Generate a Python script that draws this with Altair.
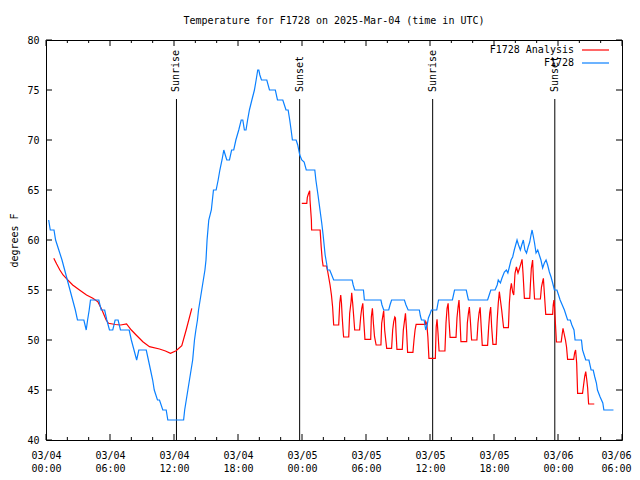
import altair as alt
import pandas as pd

# ---- data (hours since 2025-03-04 00:00 UTC, degrees F) ----
obs_hours = [0.25, 0.4, 0.75, 0.9, 1.2, 1.5, 1.75, 2.0, 2.25, 2.5, 2.75, 2.95, 3.55, 3.77,
             3.9, 4.05, 4.17, 4.95, 5.17, 5.5, 5.7, 5.95, 6.26, 6.48, 6.76, 6.98, 7.8,
             8.0, 8.25, 8.5, 8.7, 9.4, 9.6, 9.8, 10.0, 10.15, 10.45, 10.64, 10.95, 11.27,
             11.42, 12.9, 13.0, 13.15, 13.3, 13.45, 13.6, 13.75, 13.92, 14.05, 14.2, 14.3,
             14.45, 14.6, 14.75, 14.9, 15.0, 15.1, 15.26, 15.5, 15.7, 15.95, 16.14, 16.3,
             16.5, 16.67, 16.75, 16.95, 17.2, 17.4, 17.6, 17.8, 18.07, 18.3, 18.45, 18.6,
             18.75, 18.9, 19.07, 19.3, 19.54, 19.7, 19.85, 19.95, 20.05, 20.2, 20.7, 20.95,
             21.5, 21.7, 22.2, 22.35, 22.5, 22.7, 22.85, 22.98, 23.1, 23.45, 23.6, 23.79,
             23.98, 24.2, 24.4, 25.2, 25.3, 25.5, 25.6, 25.85, 25.98, 26.17, 26.3, 26.4,
             26.6, 26.75, 26.97, 28.7, 28.8, 28.94, 29.76, 29.85, 31.4, 31.5, 31.66, 32.13,
             32.25, 32.4, 33.6, 33.75, 33.95, 35.0, 35.1, 35.2, 35.45, 35.6, 35.75, 35.85,
             36.0, 36.13, 36.63, 36.8, 38.1, 38.3, 39.4, 39.6, 41.4, 41.55, 41.7, 42.1,
             42.3, 42.4, 42.6, 42.75, 42.97, 43.16, 43.3, 43.44, 43.6, 43.75, 43.9, 44.03,
             44.16, 44.3, 44.47, 44.6, 44.75, 44.9, 45.05, 45.2, 45.35, 45.47, 45.57, 45.7,
             45.8, 45.94, 46.1, 46.25, 46.4, 46.56, 46.72, 46.88, 47.03, 47.19, 47.35, 47.5,
             47.66, 47.9, 48.05, 48.2, 48.4, 48.6, 48.75, 48.9, 49.15, 49.3, 49.5, 49.6,
             50.2, 50.3, 50.45, 50.6, 50.9, 51.1, 51.3, 51.45, 51.6, 51.7, 51.95, 52.2,
             52.3, 53.2]
obs_temps = [62, 61, 61, 60, 59, 58, 57, 56, 55, 54, 53, 52, 52, 51,
             52, 53, 54, 54, 53, 53, 52, 51, 51, 52, 52, 51, 51,
             50, 49, 48, 49, 49, 48, 47, 46, 45, 44, 44, 43, 43,
             42, 42, 43, 44, 45, 46, 47, 48, 50, 51, 52, 53,
             54, 55, 56, 57, 58, 60, 62, 63, 65, 65, 66, 67,
             68, 69, 68.7, 68, 68, 69, 69, 70, 71, 72, 72, 71,
             71, 72, 73, 74, 75, 76, 77, 77, 76.5, 76, 76, 75,
             75, 74, 74, 73.5, 73, 73, 72, 71, 70, 70, 69.5, 68.5,
             68, 67.8, 67, 67, 66, 64.5, 63.7, 61.7, 60.5, 58.5, 57.7, 57,
             57, 56.6, 56, 56, 55.5, 55, 55, 54, 54, 53.5, 53, 53,
             53.5, 54, 54, 53.5, 53, 53, 52.4, 52, 52, 51, 51.6, 52.2,
             52.6, 53, 53, 54, 54, 55, 55, 54, 54, 54.5, 55, 55,
             55.5, 56, 55.7, 56.2, 56.8, 57, 56.7, 57.3, 58, 58.3, 59, 59.5,
             60, 59.5, 59, 59.5, 60, 59, 58.7, 59.3, 59.8, 60.5, 61, 60.3,
             59.7, 58.7, 59, 58.5, 58, 57.2, 57.7, 58, 57.5, 56.8, 56.3, 55.7,
             55, 55, 54.5, 54, 53.5, 53, 52.5, 52, 52, 51.5, 51, 50,
             50, 49, 48.5, 48, 48, 47, 47, 46.3, 45.7, 45, 44.3, 43.7,
             43, 43]

ana1_hours = [0.73, 1.0, 1.3, 1.6, 1.9, 2.5, 3.14, 3.8, 4.39, 4.86, 5.25, 5.64, 5.86,
              6.5, 7.0, 7.55, 8.0, 8.45, 9.08, 9.7, 10.64, 11.2, 11.67, 12.2, 12.73,
              13.14, 13.67]
ana1_temps = [58.17, 57.6, 57.0, 56.5, 56.17, 55.5, 55.0, 54.5, 54.17, 53.83, 53.0, 52.0,
              51.67, 51.55, 51.5, 51.6, 51.0, 50.5, 49.83, 49.33, 49.1, 48.9, 48.67,
              48.93, 49.43, 51.0, 53.17]

ana2_hours = [23.98, 24.45, 24.5, 24.6, 24.72, 24.75, 24.88, 24.9, 25.7, 25.8, 25.9, 25.98,
              26.3, 26.4, 26.5, 26.63, 26.76, 26.87, 26.97, 27.44, 27.54, 27.63, 27.7,
              27.77, 27.85, 27.9, 28.38, 28.47, 28.6, 28.66, 28.75, 28.85, 28.94, 29.4,
              29.5, 29.6, 29.7, 29.77, 29.85, 29.9, 30.44, 30.5, 30.6, 30.7, 30.8, 30.95,
              31.4, 31.47, 31.56, 31.66, 31.75, 31.85, 31.94, 32.4, 32.5, 32.6, 32.7, 32.76,
              32.82, 32.9, 33.4, 33.5, 33.6, 33.7, 33.8, 33.9, 34.4, 34.5, 34.6, 34.7,
              35.57, 35.6, 35.7, 35.8, 35.9, 36.5, 36.58, 36.66, 36.75, 36.85, 37.4, 37.5,
              37.6, 37.7, 37.78, 37.88, 38.44, 38.53, 38.63, 38.72, 38.8, 38.9, 39.44, 39.5,
              39.6, 39.69, 39.78, 39.9, 40.4, 40.5, 40.6, 40.7, 40.8, 40.9, 41.4, 41.5,
              41.6, 41.69, 41.78, 41.9, 42.2, 42.3, 42.4, 42.5, 42.6, 42.72, 42.9, 43.35,
              43.44, 43.53, 43.63, 43.75, 43.85, 43.97, 44.1, 44.25, 44.4, 44.53, 44.63,
              44.72, 44.85, 45.35, 45.42, 45.5, 45.62, 45.7, 45.8, 46.35, 46.45, 46.55,
              46.63, 46.72, 46.85, 47.5, 47.55, 47.62, 47.68, 47.75, 47.85, 48.3, 48.38,
              48.47, 48.56, 48.7, 48.8, 48.9, 49.47, 49.56, 49.65, 49.75, 49.84, 50.3,
              50.4, 50.5, 50.6, 50.7, 50.78, 50.87, 51.4]
ana2_temps = [63.67, 63.67, 64.27, 64.6, 64.93, 64.0, 62.0, 61.0, 61.0, 59.3, 58.0, 57.4,
              57.4, 56.9, 56.3, 55.5, 54.5, 53.3, 51.5, 51.5, 53.7, 54.5, 53.7,
              52.3, 51.0, 50.3, 50.3, 52.67, 53.83, 54.73, 53.7, 52.3, 51.0, 51.0,
              52.3, 53.17, 53.67, 52.3, 50.93, 50.07, 50.07, 52.3, 53.17, 51.6, 50.33, 49.5,
              49.5, 51.67, 52.3, 52.93, 51.0, 50.0, 49.17, 49.17, 51.0, 51.83, 52.3, 52.2,
              50.7, 49.07, 49.07, 51.0, 51.83, 52.67, 51.0, 48.77, 48.77, 50.0, 51.0, 51.57,
              51.57, 51.83, 51.6, 50.3, 48.17, 48.17, 51.3, 52.07, 50.7, 48.9, 48.9, 51.7,
              53.17, 53.67, 52.0, 50.27, 50.27, 52.2, 53.27, 54.0, 52.3, 49.83, 49.83, 51.7,
              52.67, 53.3, 52.0, 50.0, 50.0, 51.7, 52.7, 53.27, 51.3, 49.47, 49.47, 51.3,
              52.7, 53.3, 51.3, 49.57, 49.57, 52.0, 53.67, 54.83, 54.0, 53.0, 51.23, 51.23,
              53.67, 55.0, 55.67, 54.8, 54.5, 56.67, 57.3, 56.7, 57.2, 57.67, 58.07,
              56.7, 54.17, 54.17, 55.67, 57.17, 58.0, 56.0, 54.1, 54.1, 55.3, 55.8,
              56.17, 54.7, 52.57, 52.57, 53.5, 54.0, 53.2, 51.83, 49.8, 49.8, 50.5,
              51.17, 50.7, 50.0, 49.3, 48.07, 48.07, 48.7, 49.0, 47.7, 44.67, 44.67,
              45.5, 46.33, 46.83, 46.0, 45.2, 43.6, 43.6]

event_names = ["Sunrise", "Sunset", "Sunrise", "Sunset"]
event_hours = [12.23, 23.78, 36.25, 47.70]

major_x = list(range(0, 55, 6))
minor_x = [h for h in range(0, 55, 2) if h % 6 != 0]
y_ticks = list(range(40, 81, 5))

legend_labels = ["F1728 Analysis", "F1728"]

# ---- styling ----
FONT = "DejaVu Sans Mono"
RED = "#ff0000"
BLUE = "#0a80ff"
W, H = 576, 400

obs = pd.DataFrame({"h": obs_hours, "v": obs_temps})
ana = pd.concat([
    pd.DataFrame({"h": ana1_hours, "v": ana1_temps, "seg": "a"}),
    pd.DataFrame({"h": ana2_hours, "v": ana2_temps, "seg": "b"}),
])
events = pd.DataFrame({"h": event_hours, "name": event_names})
majors = pd.DataFrame({"h": major_x})
minors = pd.DataFrame({"h": minor_x})
yt = pd.DataFrame({"v": y_ticks})

label_expr = ("['03/0' + (4 + floor(datum.value / 24)), "
              "((datum.value % 24) < 10 ? '0' : '') + (datum.value % 24) + ':00']")

xscale = alt.Scale(domain=[0, 54], nice=False, zero=False)
yscale = alt.Scale(domain=[40, 80], nice=False, zero=False)
xaxis = alt.Axis(values=major_x, labelExpr=label_expr, ticks=False, domain=False, grid=False,
                 title=None, labelPadding=10, labelLineHeight=13, labelFont=FONT,
                 labelFontSize=10, labelColor="black", labelAngle=0, labelOverlap=False,
                 labelFlush=False,
                 labelAlign=alt.ExprRef("datum.value >= 54 ? 'right' : 'center'"),
                 labelOffset=alt.ExprRef("datum.value >= 54 ? 9 : 0"))
yaxis = alt.Axis(values=y_ticks, ticks=False, domain=False, grid=False, title="degrees F",
                 labelPadding=7, labelFont=FONT, labelFontSize=10, labelColor="black",
                 titleFont=FONT, titleFontSize=10, titleFontWeight="normal", titleColor="black",
                 titleX=-32, titleY=200, titleAngle=270, titleAlign="center",
                 titleBaseline="middle")
X = alt.X("h:Q", scale=xscale, axis=xaxis)
Y = alt.Y("v:Q", scale=yscale, axis=yaxis)

base_obs = alt.Chart(obs).mark_line(color=BLUE, strokeWidth=1.2).encode(x=X, y=Y)
base_ana = alt.Chart(ana).mark_line(color=RED, strokeWidth=1.2).encode(x=X, y=Y, detail="seg:N")

ev_rule = alt.Chart(events).mark_rule(color="black", strokeWidth=1).encode(
    x=X, y=alt.value(59), y2=alt.value(H))
ev_text = alt.Chart(events).mark_text(angle=270, align="left", baseline="middle", font=FONT,
                                      fontSize=10, color="black").encode(
    x=X, y=alt.value(52), text="name:N")

tick_layers = [
    alt.Chart(majors).mark_rule(color="black").encode(x=X, y=alt.value(H), y2=alt.value(H - 6)),
    alt.Chart(majors).mark_rule(color="black").encode(x=X, y=alt.value(0), y2=alt.value(6)),
    alt.Chart(minors).mark_rule(color="black").encode(x=X, y=alt.value(H), y2=alt.value(H - 3)),
    alt.Chart(minors).mark_rule(color="black").encode(x=X, y=alt.value(0), y2=alt.value(3)),
    alt.Chart(yt).mark_rule(color="black").encode(y=Y, x=alt.value(0), x2=alt.value(6)),
    alt.Chart(yt).mark_rule(color="black").encode(y=Y, x=alt.value(W - 6), x2=alt.value(W)),
]

legend_layers = []
legend_colors = [RED, BLUE]
for i, (lab, col) in enumerate(zip(legend_labels, legend_colors)):
    ld = pd.DataFrame({"label": [lab]})
    legend_layers.append(
        alt.Chart(ld).mark_text(align="right", baseline="middle", font=FONT, fontSize=10,
                                color="black").encode(
            text="label:N", x=alt.value(528), y=alt.value(10 + 13 * i)))
    legend_layers.append(
        alt.Chart(ld).mark_rule(color=col, strokeWidth=1.2).encode(
            x=alt.value(536), x2=alt.value(563), y=alt.value(10 + 13 * i)))

chart = alt.layer(
    *tick_layers, ev_rule, ev_text, base_ana, base_obs, *legend_layers
).properties(
    width=W, height=H,
    title=alt.TitleParams("Temperature for F1728 on 2025-Mar-04 (time in UTC)", font=FONT,
                          fontSize=10, fontWeight="normal", color="black", anchor="middle",
                          baseline="middle", offset=4, frame="group"),
    autosize=alt.AutoSizeParams(type="none"),
    padding={"left": 38, "top": 32, "right": 10, "bottom": 32},
    background="white",
).configure_view(stroke="black", strokeWidth=1)

chart.save("out.html", embed_options={"renderer": "svg", "actions": False})
